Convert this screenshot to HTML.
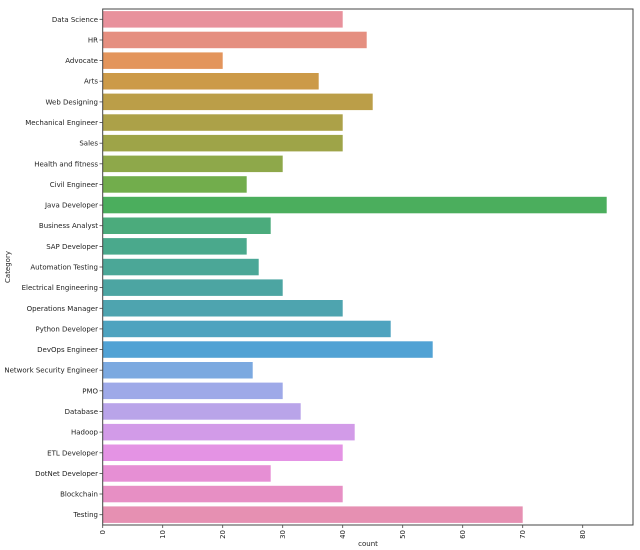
<!DOCTYPE html>
<html><head><meta charset="utf-8"><style>
html,body{margin:0;padding:0;background:#fff;}
svg{display:block;font-family:"DejaVu Sans","Liberation Sans",sans-serif;}
</style></head><body>
<svg width="640" height="550" viewBox="0 0 640 550" xmlns="http://www.w3.org/2000/svg">
<g transform="translate(102.7,0)">
<rect x="0" y="11.1" width="240" height="16.5" fill="#e8919c"/>
<rect x="0" y="31.7" width="264" height="16.5" fill="#e58f80"/>
<rect x="0" y="52.4" width="120" height="16.5" fill="#e3955c"/>
<rect x="0" y="73.0" width="216" height="16.5" fill="#cc9a48"/>
<rect x="0" y="93.6" width="270" height="16.5" fill="#bb9e48"/>
<rect x="0" y="114.3" width="240" height="16.5" fill="#aca148"/>
<rect x="0" y="134.9" width="240" height="16.5" fill="#9ea448"/>
<rect x="0" y="155.6" width="180" height="16.5" fill="#8ea84a"/>
<rect x="0" y="176.2" width="144" height="16.5" fill="#72ad4c"/>
<rect x="0" y="196.8" width="504" height="16.5" fill="#4bae5d"/>
<rect x="0" y="217.5" width="168" height="16.5" fill="#4bab7c"/>
<rect x="0" y="238.1" width="144" height="16.5" fill="#4aa98c"/>
<rect x="0" y="258.8" width="156" height="16.5" fill="#4ba797"/>
<rect x="0" y="279.4" width="180" height="16.5" fill="#4ca5a2"/>
<rect x="0" y="300.0" width="240" height="16.5" fill="#4ea4af"/>
<rect x="0" y="320.7" width="288" height="16.5" fill="#4ea3bf"/>
<rect x="0" y="341.3" width="330" height="16.5" fill="#51a2d4"/>
<rect x="0" y="362.0" width="150" height="16.5" fill="#7ba9e0"/>
<rect x="0" y="382.6" width="180" height="16.5" fill="#9ea9e8"/>
<rect x="0" y="403.2" width="198" height="16.5" fill="#b9a4e9"/>
<rect x="0" y="423.9" width="252" height="16.5" fill="#d29be8"/>
<rect x="0" y="444.5" width="240" height="16.5" fill="#e493e4"/>
<rect x="0" y="465.2" width="168" height="16.5" fill="#e68fd4"/>
<rect x="0" y="485.8" width="240" height="16.5" fill="#e78fc4"/>
<rect x="0" y="506.4" width="420" height="16.5" fill="#e690b2"/>
</g>
<rect x="102.7" y="9" width="530.3" height="516" fill="none" stroke="#444" stroke-width="1"/>
<g font-size="7" fill="#222" text-anchor="end">
<text x="98" y="21.8">Data Science</text>
<text x="98" y="42.5">HR</text>
<text x="98" y="63.1">Advocate</text>
<text x="98" y="83.7">Arts</text>
<text x="98" y="104.4">Web Designing</text>
<text x="98" y="125">Mechanical Engineer</text>
<text x="98" y="145.7">Sales</text>
<text x="98" y="166.3">Health and fitness</text>
<text x="98" y="186.9">Civil Engineer</text>
<text x="98" y="207.6">Java Developer</text>
<text x="98" y="228.2">Business Analyst</text>
<text x="98" y="248.9">SAP Developer</text>
<text x="98" y="269.5">Automation Testing</text>
<text x="98" y="290.1">Electrical Engineering</text>
<text x="98" y="310.8">Operations Manager</text>
<text x="98" y="331.4">Python Developer</text>
<text x="98" y="352.1">DevOps Engineer</text>
<text x="98" y="372.7">Network Security Engineer</text>
<text x="98" y="393.3">PMO</text>
<text x="98" y="414">Database</text>
<text x="98" y="434.6">Hadoop</text>
<text x="98" y="455.3">ETL Developer</text>
<text x="98" y="475.9">DotNet Developer</text>
<text x="98" y="496.5">Blockchain</text>
<text x="98" y="517.2">Testing</text>
</g>
<g stroke="#444" stroke-width="0.8">
<line x1="99.5" x2="102.7" y1="19.3" y2="19.3"/><line x1="99.5" x2="102.7" y1="40" y2="40"/><line x1="99.5" x2="102.7" y1="60.6" y2="60.6"/><line x1="99.5" x2="102.7" y1="81.2" y2="81.2"/><line x1="99.5" x2="102.7" y1="101.9" y2="101.9"/><line x1="99.5" x2="102.7" y1="122.5" y2="122.5"/><line x1="99.5" x2="102.7" y1="143.2" y2="143.2"/><line x1="99.5" x2="102.7" y1="163.8" y2="163.8"/><line x1="99.5" x2="102.7" y1="184.4" y2="184.4"/><line x1="99.5" x2="102.7" y1="205.1" y2="205.1"/><line x1="99.5" x2="102.7" y1="225.7" y2="225.7"/><line x1="99.5" x2="102.7" y1="246.4" y2="246.4"/><line x1="99.5" x2="102.7" y1="267" y2="267"/><line x1="99.5" x2="102.7" y1="287.6" y2="287.6"/><line x1="99.5" x2="102.7" y1="308.3" y2="308.3"/><line x1="99.5" x2="102.7" y1="328.9" y2="328.9"/><line x1="99.5" x2="102.7" y1="349.6" y2="349.6"/><line x1="99.5" x2="102.7" y1="370.2" y2="370.2"/><line x1="99.5" x2="102.7" y1="390.8" y2="390.8"/><line x1="99.5" x2="102.7" y1="411.5" y2="411.5"/><line x1="99.5" x2="102.7" y1="432.1" y2="432.1"/><line x1="99.5" x2="102.7" y1="452.8" y2="452.8"/><line x1="99.5" x2="102.7" y1="473.4" y2="473.4"/><line x1="99.5" x2="102.7" y1="494" y2="494"/><line x1="99.5" x2="102.7" y1="514.7" y2="514.7"/>
<line x1="102.7" x2="102.7" y1="525" y2="528"/><line x1="162.7" x2="162.7" y1="525" y2="528"/><line x1="222.7" x2="222.7" y1="525" y2="528"/><line x1="282.7" x2="282.7" y1="525" y2="528"/><line x1="342.7" x2="342.7" y1="525" y2="528"/><line x1="402.7" x2="402.7" y1="525" y2="528"/><line x1="462.7" x2="462.7" y1="525" y2="528"/><line x1="522.7" x2="522.7" y1="525" y2="528"/><line x1="582.7" x2="582.7" y1="525" y2="528"/>
</g>
<g font-size="7" fill="#222" text-anchor="end">
<text transform="translate(105.2,530) rotate(-90)">0</text>
<text transform="translate(165.2,530) rotate(-90)">10</text>
<text transform="translate(225.2,530) rotate(-90)">20</text>
<text transform="translate(285.2,530) rotate(-90)">30</text>
<text transform="translate(345.2,530) rotate(-90)">40</text>
<text transform="translate(405.2,530) rotate(-90)">50</text>
<text transform="translate(465.2,530) rotate(-90)">60</text>
<text transform="translate(525.2,530) rotate(-90)">70</text>
<text transform="translate(585.2,530) rotate(-90)">80</text>
</g>
<text x="368" y="546" font-size="7" fill="#222" text-anchor="middle">count</text>
<text transform="translate(10,267) rotate(-90)" font-size="7" fill="#222" text-anchor="middle">Category</text>
</svg>
</body></html>
